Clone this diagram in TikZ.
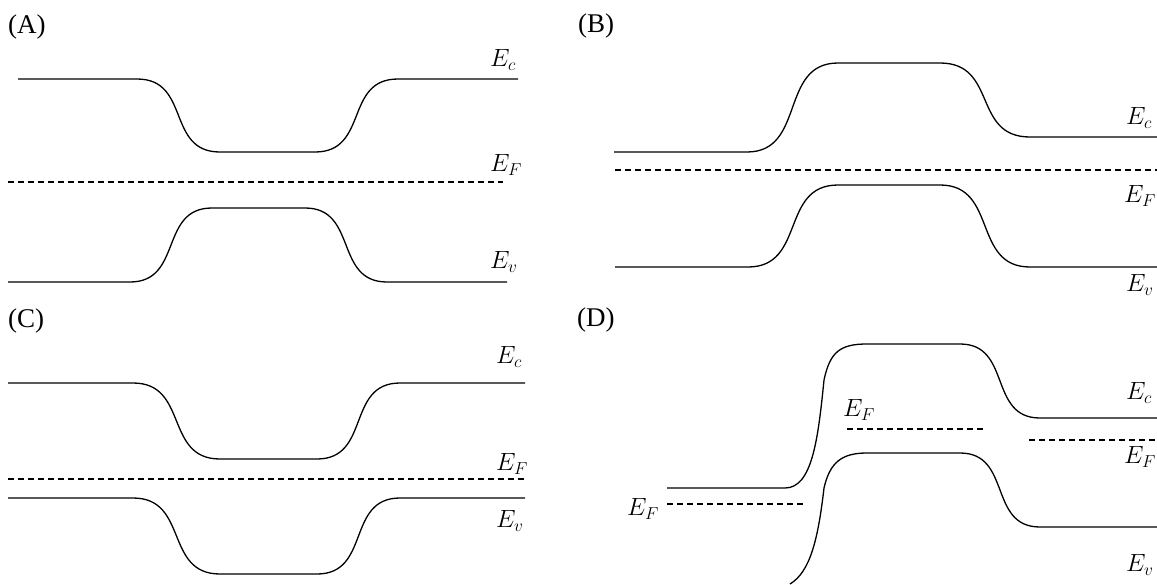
\documentclass[tikz,border=0pt]{standalone}
\usepackage{fontspec}
\setmainfont{Liberation Serif}
\begin{document}
\begin{tikzpicture}[x=1pt,y=-1pt,
  band/.style={line width=1.3pt},
  fermi/.style={line width=1.2pt, dash pattern=on 6pt off 4pt},
  lbl/.style={font=\fontsize{25}{25}\selectfont, inner sep=0pt, anchor=west},
  panel/.style={font=\fontsize{27}{27}\selectfont, inner sep=0pt, anchor=west}]
\useasboundingbox (0,0) rectangle (1157,584);

% ---------- (A)
\node[panel] (pA) at (8,27) {(A)};
\draw[band] (18,79) -- (137,79) .. controls +(54,0) and +(-54,0) .. (220,152) -- (315,152) .. controls +(54,0) and +(-54,0) .. (398,79) -- (518,79);
\draw[fermi] (8,182) -- (503,182);
\draw[band] (8,282) -- (130,282) .. controls +(53,0) and +(-53,0) .. (212,208) -- (305,208) .. controls +(53,0) and +(-53,0) .. (387,282) -- (507,282);
\node[lbl] (AEc) at (490,60) {$E_c$};
\node[lbl] (AEF) at (490,165) {$E_F$};
\node[lbl] (AEv) at (490,262) {$E_v$};

% ---------- (B)
\node[panel] (pB) at (578,26) {(B)};
\draw[band] (614,152) -- (747,152) .. controls +(59,0) and +(-59,0) .. (838,63) -- (940,63) .. controls +(58,0) and +(-58,0) .. (1030,137) -- (1157,137);
\draw[fermi] (615,170) -- (1157,170);
\draw[band] (615,267) -- (748,267) .. controls +(58,0) and +(-58,0) .. (838,185) -- (940,185) .. controls +(58,0) and +(-58,0) .. (1030,267) -- (1157,267);
\node[lbl] (BEc) at (1126,118) {$E_c$};
\node[lbl] (BEF) at (1124,196) {$E_F$};
\node[lbl] (BEv) at (1126,285) {$E_v$};

% ---------- (C)
\node[panel] (pC) at (8,321) {(C)};
\draw[band] (8,383) -- (133,383) .. controls +(56,0) and +(-56,0) .. (220,459) -- (317,459) .. controls +(54,0) and +(-54,0) .. (400,383) -- (525,383);
\draw[fermi] (8,479) -- (525,479);
\draw[band] (8,498) -- (133,498) .. controls +(56,0) and +(-56,0) .. (220,574) -- (317,574) .. controls +(54,0) and +(-54,0) .. (400,498) -- (525,498);
\node[lbl] (CEc) at (496,357) {$E_c$};
\node[lbl] (CEF) at (496,464) {$E_F$};
\node[lbl] (CEv) at (496,521) {$E_v$};

% ---------- (D)
\node[panel] (pD) at (577,320) {(D)};
\draw[band] (667,488) -- (785,488) .. controls (812,488) and (818,440) .. (824,380) .. controls (830,352) and (840,344) .. (867,344) -- (960,344) .. controls +(52,0) and +(-52,0) .. (1040,418) -- (1157,418);
\draw[band] (790,584) .. controls (810,572) and (818,540) .. (824,488) .. controls (830,462) and (842,453) .. (867,453) -- (960,453) .. controls +(52,0) and +(-52,0) .. (1040,527) -- (1157,527);
\draw[fermi] (667,504) -- (804,504);
\draw[fermi] (847,429) -- (985,429);
\draw[fermi] (1029,440) -- (1157,440);
\node[lbl] (DEFl) at (627,509) {$E_F$};
\node[lbl] (DEFm) at (843,410) {$E_F$};
\node[lbl] (DEc) at (1126,393) {$E_c$};
\node[lbl] (DEFr) at (1124,457) {$E_F$};
\node[lbl] (DEv) at (1126,565) {$E_v$};
\end{tikzpicture}
\end{document}
